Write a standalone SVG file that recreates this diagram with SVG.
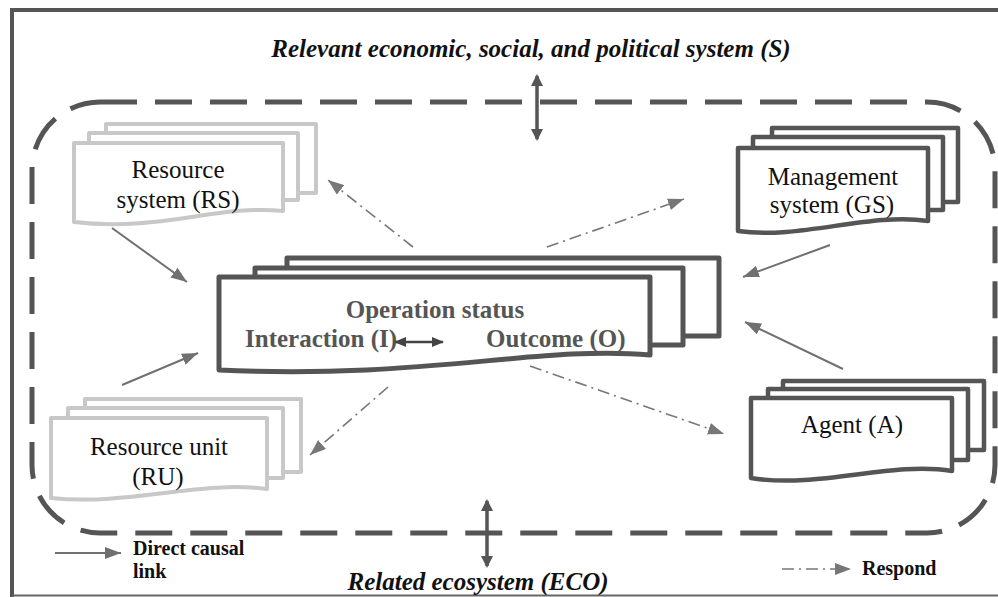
<svg xmlns="http://www.w3.org/2000/svg" width="998" height="597" viewBox="0 0 998 597">
<defs>
<style>
.dark{fill:#fff;stroke:#555;stroke-width:4.5;stroke-linejoin:round}
.light{fill:#fff;stroke:#c8c8c8;stroke-width:4;stroke-linejoin:round}
.lbl{font-family:"Liberation Serif",serif;font-size:25px;fill:#111}
.bold{font-family:"Liberation Serif",serif;font-weight:bold;font-size:25px;fill:#555}
.title{font-family:"Liberation Serif",serif;font-weight:bold;font-style:italic;font-size:25px;fill:#111}
.leg{font-family:"Liberation Serif",serif;font-weight:bold;font-size:20px;fill:#111}
.causal{stroke:#707070;stroke-width:2;fill:none}
.resp{stroke:#777;stroke-width:1.6;fill:none;stroke-dasharray:12 5 2 5}
.dbl{stroke:#555;stroke-width:3.5;fill:none}
</style>
<marker id="ah" viewBox="0 0 16 12" refX="16" refY="6" markerWidth="16" markerHeight="12" markerUnits="userSpaceOnUse" orient="auto"><path d="M0,0 L16,6 L0,12 Z" fill="#707070"/></marker>
<marker id="ahr" viewBox="0 0 16 12" refX="16" refY="6" markerWidth="16" markerHeight="12" markerUnits="userSpaceOnUse" orient="auto"><path d="M0,0 L16,6 L0,12 Z" fill="#777"/></marker>
<marker id="dh" viewBox="0 0 12 12" refX="10" refY="6" markerWidth="12" markerHeight="12" markerUnits="userSpaceOnUse" orient="auto-start-reverse"><path d="M0,0 L12,6 L0,12 Z" fill="#555"/></marker>
<marker id="ih" viewBox="0 0 12 10" refX="11" refY="5" markerWidth="12" markerHeight="10" markerUnits="userSpaceOnUse" orient="auto-start-reverse"><path d="M0,0 L12,5 L0,10 Z" fill="#444"/></marker>
</defs>
<rect width="998" height="597" fill="#fff"/>
<g id="frame">
<path d="M12,597 V10 H1000" fill="none" stroke="#555" stroke-width="4"/>
<line x1="12" y1="595.5" x2="998" y2="595.5" stroke="#666" stroke-width="2"/>
</g>
<g id="boundary">
<rect x="32" y="102" width="963" height="431" rx="68" ry="68" fill="none" stroke="#555" stroke-width="5" stroke-dasharray="37 18"/>
<text class="title" x="531" y="57" text-anchor="middle">Relevant economic, social, and political system (S)</text>
<text class="title" x="478" y="590" text-anchor="middle">Related ecosystem (ECO)</text>
</g>
<g id="node-RS">
<rect class="light" x="106" y="124" width="210" height="69"/>
<rect class="light" x="89" y="133" width="209" height="67"/>
<path class="light" d="M74,143 H283 V211 C220,204 160,232 74,222 Z"/>
<text class="lbl" x="178" y="178" text-anchor="middle">Resource</text>
<text class="lbl" x="178" y="208" text-anchor="middle">system (RS)</text>
</g>
<g id="node-RU">
<rect class="light" x="85" y="399" width="216" height="73"/>
<rect class="light" x="68" y="408" width="215" height="70"/>
<path class="light" d="M51,418 H267 V489 C200,480 130,506 51,498 Z"/>
<text class="lbl" x="159" y="455" text-anchor="middle">Resource unit</text>
<text class="lbl" x="158" y="485" text-anchor="middle">(RU)</text>
</g>
<g id="node-GS">
<rect class="dark" x="772" y="128" width="186" height="74"/>
<rect class="dark" x="753" y="137" width="190" height="73"/>
<path class="dark" d="M738,148 H928 V221 C870,212 800,240 738,231 Z"/>
<text class="lbl" x="833" y="185" text-anchor="middle">Management</text>
<text class="lbl" x="832" y="213" text-anchor="middle">system (GS)</text>
</g>
<g id="node-A">
<rect class="dark" x="783" y="381" width="201" height="69"/>
<rect class="dark" x="768" y="389" width="200" height="71"/>
<path class="dark" d="M751,398 H952 V471 C890,461 820,489 751,478 Z"/>
<text class="lbl" x="852" y="433" text-anchor="middle">Agent (A)</text>
</g>
<g id="node-center">
<rect class="dark" x="287" y="258" width="432" height="78" style="stroke-width:5"/>
<rect class="dark" x="255" y="268" width="428" height="77" style="stroke-width:5"/>
<path class="dark" style="stroke-width:5" d="M219,277 H650 V355 C540,345 420,380 219,370 Z"/>
<text class="bold" x="435" y="318" text-anchor="middle">Operation status</text>
<text class="bold" x="245" y="347">Interaction (I)</text>
<text class="bold" x="486" y="347">Outcome (O)</text>
<line x1="395" y1="342" x2="443" y2="342" stroke="#444" stroke-width="2.5" marker-start="url(#ih)" marker-end="url(#ih)"/>
</g>
<g id="connectors">
<line class="causal" x1="112" y1="228" x2="187" y2="282" marker-end="url(#ah)"/>
<line class="causal" x1="122" y1="385" x2="198" y2="353" marker-end="url(#ah)"/>
<line class="causal" x1="830" y1="245" x2="743" y2="277" marker-end="url(#ah)"/>
<line class="causal" x1="843" y1="369" x2="745" y2="322" marker-end="url(#ah)"/>
<line class="resp" x1="413" y1="247" x2="328" y2="180" marker-end="url(#ahr)"/>
<line class="resp" x1="547" y1="247" x2="684" y2="199" marker-end="url(#ahr)"/>
<line class="resp" x1="388" y1="387" x2="310" y2="455" marker-end="url(#ahr)"/>
<line class="resp" x1="530" y1="366" x2="724" y2="434" marker-end="url(#ahr)"/>
<line class="dbl" x1="537" y1="76" x2="537" y2="139" marker-start="url(#dh)" marker-end="url(#dh)"/>
<line class="dbl" x1="487" y1="501" x2="487" y2="566" marker-start="url(#dh)" marker-end="url(#dh)"/>
</g>
<g id="legend">
<line class="causal" x1="55" y1="553" x2="121" y2="553" marker-end="url(#ah)"/>
<text class="leg" x="133" y="555">Direct causal</text>
<text class="leg" x="133" y="578">link</text>
<line class="resp" x1="782" y1="569" x2="851" y2="569" marker-end="url(#ahr)"/>
<text class="leg" x="862" y="575">Respond</text>
</g>
</svg>
